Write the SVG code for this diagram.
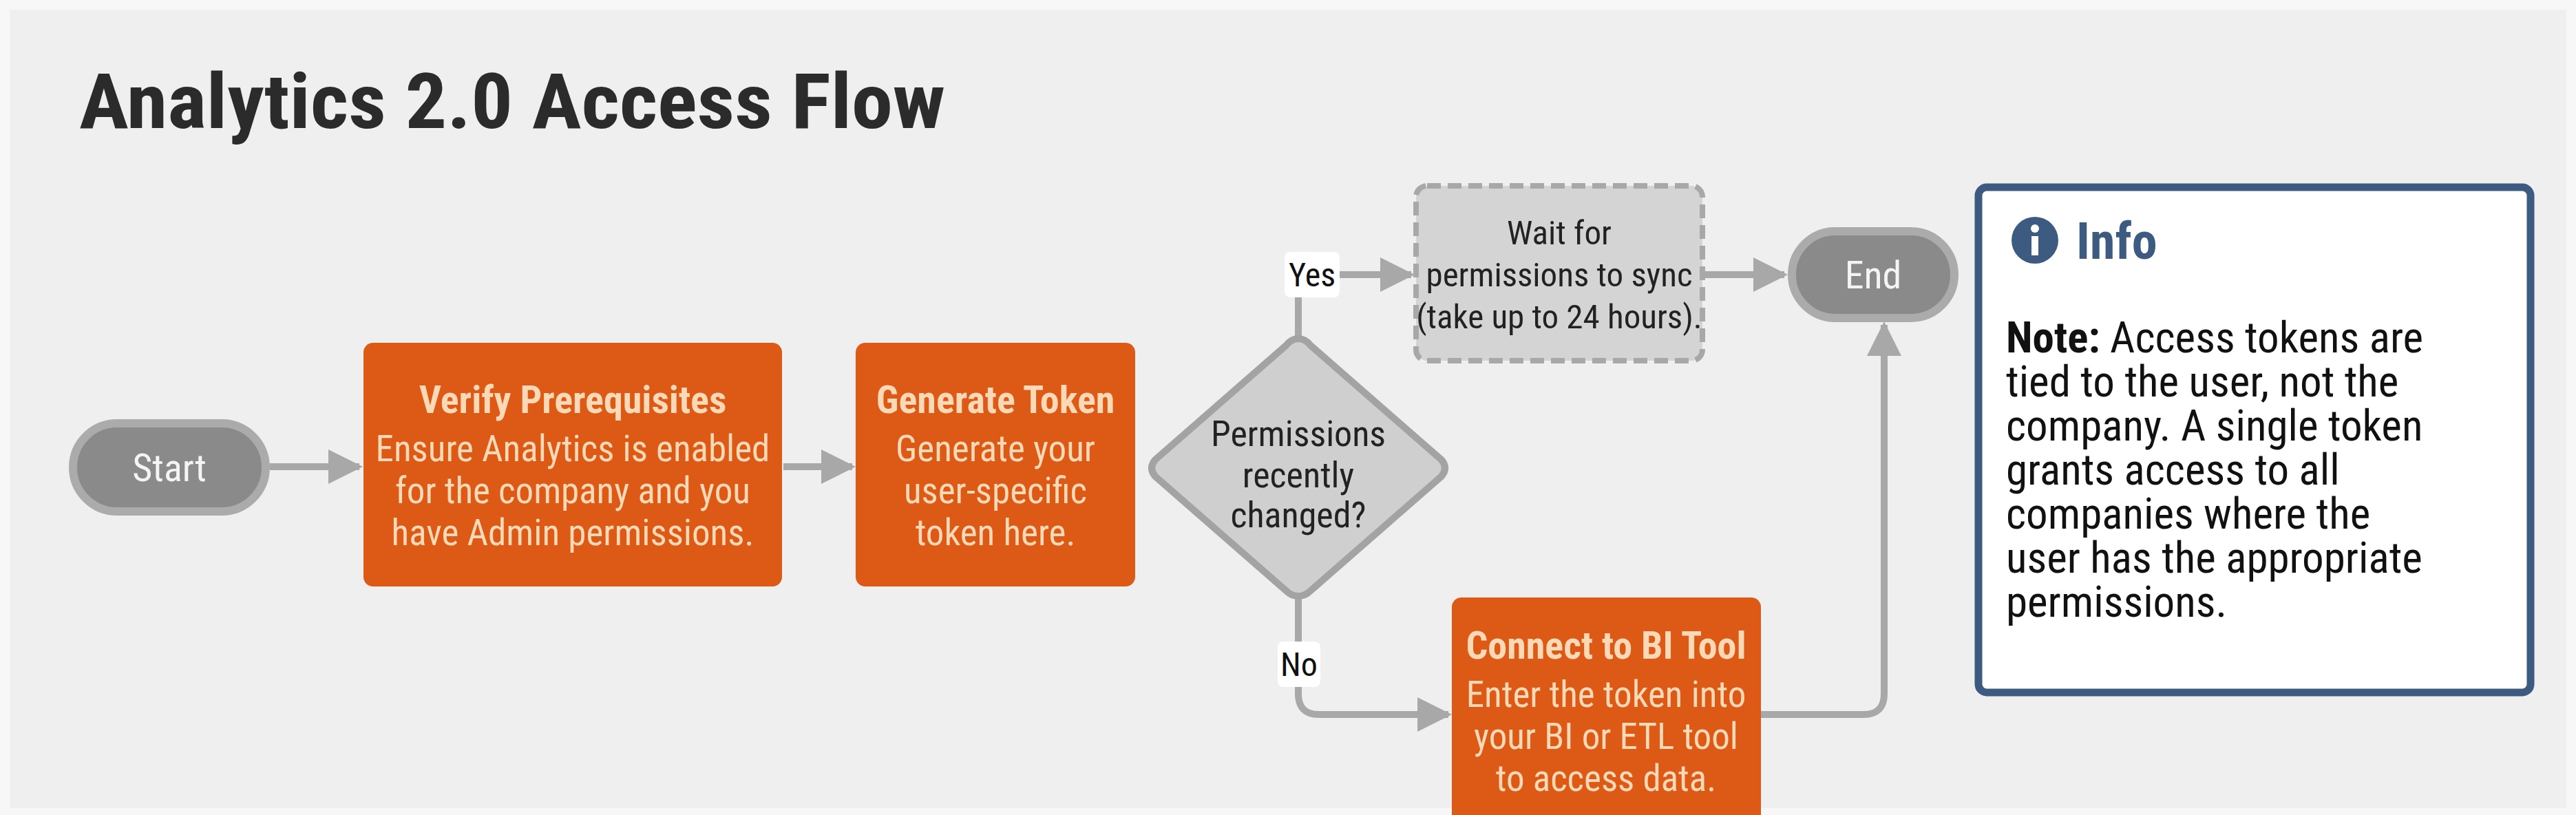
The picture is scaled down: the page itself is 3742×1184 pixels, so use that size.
<svg xmlns="http://www.w3.org/2000/svg" width="3742" height="1184" viewBox="0 0 3742 1184">
<defs>
<style>
text{font-family:"Roboto Condensed",Roboto,"Liberation Sans",sans-serif;}
.proc{fill:#dc5a16;}
.pt{fill:#fbd8b6;font-size:56px;font-weight:bold;text-anchor:middle;}
.pb{fill:#fbd8b6;font-size:53px;text-anchor:middle;}
.term{fill:#8a8a8a;stroke:#ababab;stroke-width:12;}
.tt{fill:#f4f4f4;font-size:56px;text-anchor:middle;}
.dt{fill:#222;font-size:52px;text-anchor:middle;}
.wt{fill:#222;font-size:49px;text-anchor:middle;}
.conn{fill:none;stroke:#a8a8a8;stroke-width:10;}
.lbl{fill:#111;font-size:48px;text-anchor:middle;}
.nt{fill:#111;font-size:63px;}
</style>
<marker id="ah" viewBox="0 0 10 10" refX="9" refY="5" markerWidth="5" markerHeight="5" markerUnits="strokeWidth" orient="auto"><path d="M0,0 L10,5 L0,10 z" fill="#a8a8a8"/></marker>
</defs>
<rect x="0" y="0" width="3742" height="1184" fill="#f7f7f7"/>
<rect x="14" y="14" width="3714" height="1160" fill="#efefef"/>
<text x="115" y="186" font-size="112" font-weight="bold" fill="#2b2b2b" textLength="1258" lengthAdjust="spacingAndGlyphs">Analytics 2.0 Access Flow</text>

<g id="connectors">
<line class="conn" x1="392" y1="678" x2="522" y2="678" marker-end="url(#ah)"/>
<line class="conn" x1="1138" y1="678" x2="1238" y2="678" marker-end="url(#ah)"/>
<path class="conn" d="M1886,489 V430 Q1886,399 1917,399 H2050" marker-end="url(#ah)"/>
<line class="conn" x1="2476" y1="399" x2="2592" y2="399" marker-end="url(#ah)"/>
<path class="conn" d="M1886,864 V1008 Q1886,1038 1916,1038 H2104" marker-end="url(#ah)"/>
<path class="conn" d="M2558,1038 H2707 Q2737,1038 2737,1008 V472" marker-end="url(#ah)"/>
<rect x="1866" y="366" width="80" height="66" rx="8" fill="#fff"/>
<text class="lbl" x="1906" y="416">Yes</text>
<rect x="1856" y="932" width="62" height="66" rx="8" fill="#fff"/>
<text class="lbl" x="1887" y="982">No</text>
</g>

<g id="start">
<rect class="term" x="106" y="615" width="280" height="128" rx="64"/>
<text class="tt" x="246" y="699">Start</text>
</g>
<g id="verify">
<rect class="proc" x="528" y="498" width="608" height="354" rx="14"/>
<text class="pt" x="832" y="600">Verify Prerequisites</text>
<text class="pb" x="832" y="670">Ensure Analytics is enabled</text>
<text class="pb" x="832" y="731">for the company and you</text>
<text class="pb" x="832" y="792">have Admin permissions.</text>
</g>
<g id="generate">
<rect class="proc" x="1243" y="498" width="406" height="354" rx="14"/>
<text class="pt" x="1446" y="600">Generate Token</text>
<text class="pb" x="1446" y="670">Generate your</text>
<text class="pb" x="1446" y="731">user-specific</text>
<text class="pb" x="1446" y="792">token here.</text>
</g>
<g id="decision">
<path d="M1886,492 Q1896,492 1904,502 L2094,668 Q2104,680 2094,692 L1904,858 Q1896,866 1886,866 Q1876,866 1868,858 L1678,692 Q1668,680 1678,668 L1868,502 Q1876,492 1886,492 Z" fill="#cfcfcf" stroke="#a3a3a3" stroke-width="10" stroke-linejoin="round"/>
<text class="dt" x="1886" y="648">Permissions</text>
<text class="dt" x="1886" y="708">recently</text>
<text class="dt" x="1886" y="766">changed?</text>
</g>
<g id="wait">
<rect x="2057" y="270" width="416" height="254" rx="16" fill="#d4d4d4" stroke="#a8a8a8" stroke-width="8" stroke-dasharray="20,10"/>
<text class="wt" x="2265" y="355">Wait for</text>
<text class="wt" x="2265" y="416">permissions to sync</text>
<text class="wt" x="2265" y="477">(take up to 24 hours).</text>
</g>
<g id="end">
<rect class="term" x="2603" y="336" width="236" height="126" rx="63"/>
<text class="tt" x="2721" y="419">End</text>
</g>
<g id="connect">
<rect class="proc" x="2109" y="868" width="449" height="330" rx="14"/>
<text class="pt" x="2333" y="957">Connect to BI Tool</text>
<text class="pb" x="2333" y="1027">Enter the token into</text>
<text class="pb" x="2333" y="1088">your BI or ETL tool</text>
<text class="pb" x="2333" y="1149">to access data.</text>
</g>
<g id="info">
<rect x="2874" y="272" width="802" height="734" rx="12" fill="#fff" stroke="#3d5a80" stroke-width="11"/>
<circle cx="2956" cy="349" r="34" fill="#3d5a80"/>
<circle cx="2956" cy="332" r="6" fill="#fff"/>
<rect x="2951" y="343" width="10" height="28" fill="#fff"/>
<text x="3016" y="376" font-size="74" font-weight="bold" fill="#3d5a80">Info</text>
<text class="nt" x="2914" y="512"><tspan font-weight="bold">Note:</tspan> Access tokens are</text>
<text class="nt" x="2914" y="576">tied to the user, not the</text>
<text class="nt" x="2914" y="640">company. A single token</text>
<text class="nt" x="2914" y="704">grants access to all</text>
<text class="nt" x="2914" y="768">companies where the</text>
<text class="nt" x="2914" y="832">user has the appropriate</text>
<text class="nt" x="2914" y="896">permissions.</text>
</g>
</svg>
